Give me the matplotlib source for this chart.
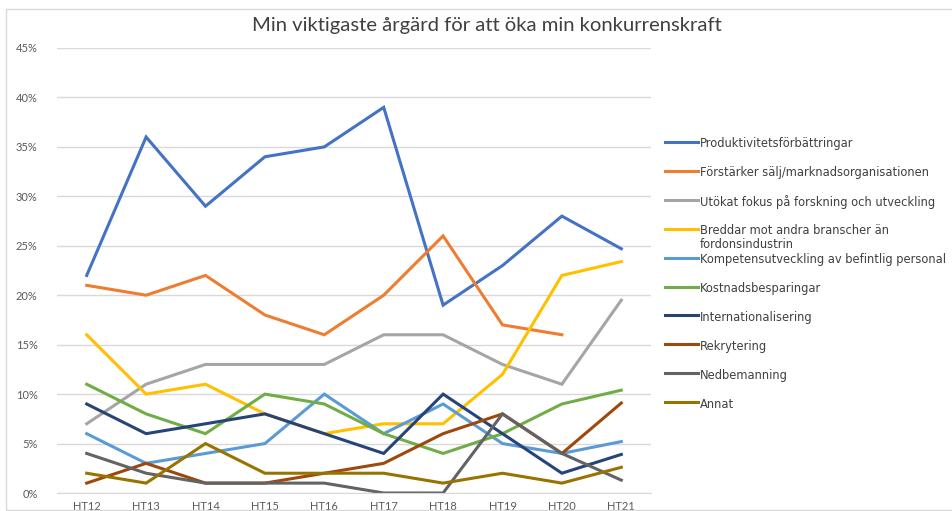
import numpy as np
import matplotlib
matplotlib.use("Agg")
import matplotlib.pyplot as plt
from matplotlib.patches import Rectangle
from matplotlib.lines import Line2D
from matplotlib.ticker import FuncFormatter

# terminer
terminer = ["HT12", "HT13", "HT14", "HT15", "HT16", "HT17", "HT18", "HT19", "HT20", "HT21"]

# andel (%) per åtgärd
produktivitet = [22, 36, 29, 34, 35, 39, 19, 23, 28, 24.7]
saljorg = [21, 20, 22, 18, 16, 20, 26, 17, 16, np.nan]
forskning = [7, 11, 13, 13, 13, 16, 16, 13, 11, 19.5]
breddar = [16, 10, 11, 8, 6, 7, 7, 12, 22, 23.4]
kompetens = [6, 3, 4, 5, 10, 6, 9, 5, 4, 5.2]
kostnad = [11, 8, 6, 10, 9, 6, 4, 6, 9, 10.4]
internationell = [9, 6, 7, 8, 6, 4, 10, 6, 2, 3.9]
rekrytering = [1, 3, 1, 1, 2, 3, 6, 8, 4, 9.1]
nedbemanning = [4, 2, 1, 1, 1, 0, 0, 8, 4, 1.3]
annat = [2, 1, 5, 2, 2, 2, 1, 2, 1, 2.6]

serier = [
    ("Produktivitetsförbättringar", produktivitet, "#4472C4"),
    ("Förstärker sälj/marknadsorganisationen", saljorg, "#ED7D31"),
    ("Utökat fokus på forskning och utveckling", forskning, "#A5A5A5"),
    ("Breddar mot andra branscher än\nfordonsindustrin", breddar, "#FFC000"),
    ("Kompetensutveckling av befintlig personal", kompetens, "#5B9BD5"),
    ("Kostnadsbesparingar", kostnad, "#70AD47"),
    ("Internationalisering", internationell, "#264478"),
    ("Rekrytering", rekrytering, "#9E480E"),
    ("Nedbemanning", nedbemanning, "#636363"),
    ("Annat", annat, "#997300"),
]

W, H = 953, 511
fig = plt.figure(figsize=(W / 100, H / 100), dpi=100)
fig.patches.append(Rectangle((6 / W, 0.002), 1.0, 1 - 9 / H - 0.002, transform=fig.transFigure,
                             fill=False, edgecolor="#D9D9D9", linewidth=1))

ax = fig.add_axes([57 / W, 1 - 493 / H, (651 - 57) / W, (493 - 48) / H])

x = np.arange(len(terminer))
for namn, varden, farg in serier:
    ax.plot(x, varden, color=farg, linewidth=2.2, label=namn, solid_joinstyle="miter")

ax.set_xlim(-0.5, len(terminer) - 0.5)
ax.set_ylim(0, 45)
ax.set_yticks(np.arange(0, 46, 5))
ax.yaxis.set_major_formatter(FuncFormatter(lambda v, p: f"{v:.0f}%"))
ax.set_xticks(x)
ax.set_xticklabels(terminer)
ax.grid(axis="y", color="#D9D9D9", linewidth=1)
ax.set_axisbelow(True)
for s in ["top", "right", "left"]:
    ax.spines[s].set_visible(False)
ax.spines["bottom"].set_color("#D9D9D9")
ax.tick_params(length=0, labelsize=8, colors="#595959", pad=6)
for t in ax.get_xticklabels() + ax.get_yticklabels():
    t.set_fontfamily("Lato")
ax.tick_params(axis="y", pad=14)

fig.text(487 / W, 1 - 25.5 / H, "Min viktigaste årgärd för att öka min konkurrenskraft",
         ha="center", va="center", fontsize=14.6, color="#404040", family="Lato")

# legend byggd för hand, som i Excel (handtaget i höjd med första raden)
for i, (namn, varden, farg) in enumerate(serier):
    y = 1 - (142 + 28.9 * i) / H
    fig.add_artist(Line2D([665 / W, 698 / W], [y, y], transform=fig.transFigure,
                          color=farg, linewidth=2.2))
    fig.text(700 / W, y + 4.5 / H, namn, ha="left", va="top", fontsize=8.3,
             color="#404040", linespacing=1.05)

fig.savefig("out.png", dpi=100)
